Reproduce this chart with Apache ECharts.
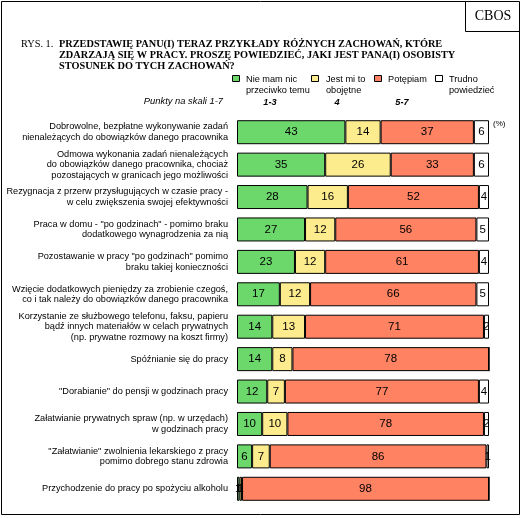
<!DOCTYPE html>
<html><head><meta charset="utf-8">
<script src="https://cdn.jsdelivr.net/npm/echarts@6/dist/echarts.min.js"></script>
<style>html,body{margin:0;padding:0;background:#fff}#c{width:523px;height:518px}</style>
</head><body><div id="c"></div>
<script>
const categories = [
  "Dobrowolne, bezpłatne wykonywanie zadań\nnienależących do obowiązków danego pracownika",
  "Odmowa wykonania zadań nienależących\ndo obowiązków danego pracownika, chociaż\npozostających w granicach jego możliwości",
  "Rezygnacja z przerw przysługujących w czasie pracy -\nw celu zwiększenia swojej efektywności",
  "Praca w domu - \"po godzinach\" - pomimo braku\ndodatkowego wynagrodzenia za nią",
  "Pozostawanie w pracy \"po godzinach\" pomimo\nbraku takiej konieczności",
  "Wzięcie dodatkowych pieniędzy za zrobienie czegoś,\nco i tak należy do obowiązków danego pracownika",
  "Korzystanie ze służbowego telefonu, faksu, papieru\nbądź innych materiałów w celach prywatnych\n(np. prywatne rozmowy na koszt firmy)",
  "Spóźnianie się do pracy",
  "\"Dorabianie\" do pensji w godzinach pracy",
  "Załatwianie prywatnych spraw (np. w urzędach)\nw godzinach pracy",
  "\"Załatwianie\" zwolnienia lekarskiego z pracy\npomimo dobrego stanu zdrowia",
  "Przychodzenie do pracy po spożyciu alkoholu"
];
const seriesNames = ["Nie mam nic\nprzeciwko temu", "Jest mi to\nobojętne", "Potępiam", "Trudno\npowiedzieć"];
const scaleLabels = ["1-3", "4", "5-7"];
const nieMam   = [43, 35, 28, 27, 23, 17, 14, 14, 12, 10, 6, 1];
const obojetne = [14, 26, 16, 12, 12, 12, 13, 8, 7, 10, 7, 1];
const potepiam = [37, 33, 52, 56, 61, 66, 71, 78, 77, 78, 86, 98];
const trudno   = [6, 6, 4, 5, 4, 5, 2, 0, 4, 2, 1, 0];
const colors = ["#6cd86c", "#fdec8e", "#ff8262", "#ffffff"];
const values = [nieMam, obojetne, potepiam, trudno];

const chart = echarts.init(document.getElementById('c'));
const series = values.map((v, i) => ({
  name: seriesNames[i], type: 'bar', stack: 'all', barWidth: 24,
  itemStyle: { color: colors[i], borderColor: '#000', borderWidth: 1 },
  label: { show: true, position: 'inside', color: '#000', fontSize: 11.5, fontFamily: 'Liberation Sans',
           formatter: p => p.value > 0 ? String(p.value) : '' },
  emphasis: { disabled: true },
  data: v
}));
const serifBold = 'bold 10.3px "Liberation Serif"';
const legendIconX = [232, 311, 374, 435];
const legendTextX = [246, 326, 388, 449];
const legendGraphics = [];
seriesNames.forEach((n, i) => {
  legendGraphics.push({ type: 'rect', shape: { x: legendIconX[i] + 0.5, y: 75.5, width: 7, height: 6 },
    style: { fill: colors[i], stroke: '#000', lineWidth: 1 } });
  legendGraphics.push({ type: 'text', x: legendTextX[i], y: 74, style: { text: n, font: '9.2px "Liberation Sans"', lineHeight: 11, fill: '#000', verticalAlign: 'top' } });
});
const scaleX = [270, 337, 402];
const scaleGraphics = scaleLabels.map((t, i) => ({ type: 'text', x: scaleX[i], y: 102,
  style: { text: t, font: 'italic bold 9.2px "Liberation Sans"', fill: '#000', align: 'center', verticalAlign: 'middle' } }));

chart.setOption({
  animation: false,
  grid: { left: 237, right: 34, top: 116, bottom: 13, containLabel: false },
  xAxis: { type: 'value', min: 0, max: 100, show: false },
  yAxis: { type: 'category', data: categories, inverse: true,
    axisLine: { show: false }, axisTick: { show: false },
    axisLabel: { margin: 9, fontSize: 9.2, lineHeight: 10.6, color: '#000', fontFamily: 'Liberation Sans', align: 'right' } },
  graphic: [
    { type: 'rect', shape: { x: 1.5, y: 1.5, width: 518, height: 513 }, style: { fill: 'none', stroke: '#000', lineWidth: 1 } },
    { type: 'polyline', shape: { points: [[465.5, 1.5], [465.5, 31.5], [519.5, 31.5]] }, style: { fill: 'none', stroke: '#000', lineWidth: 1 } },
    { type: 'text', x: 493, y: 16, style: { text: 'CBOS', font: '14px "Liberation Serif"', fill: '#000', align: 'center', verticalAlign: 'middle' } },
    { type: 'text', x: 21, y: 44, style: { text: 'RYS. 1.', font: '10.3px "Liberation Serif"', fill: '#000', verticalAlign: 'middle' } },
    { type: 'text', x: 59, y: 44, style: { text: 'PRZEDSTAWIĘ PANU(I) TERAZ PRZYKŁADY RÓŻNYCH ZACHOWAŃ, KTÓRE', font: serifBold, fill: '#000', verticalAlign: 'middle' } },
    { type: 'text', x: 59, y: 55, style: { text: 'ZDARZAJĄ SIĘ W PRACY. PROSZĘ POWIEDZIEĆ, JAKI JEST PANA(I) OSOBISTY', font: serifBold, fill: '#000', verticalAlign: 'middle' } },
    { type: 'text', x: 59, y: 66, style: { text: 'STOSUNEK DO TYCH ZACHOWAŃ?', font: serifBold, fill: '#000', verticalAlign: 'middle' } },
    { type: 'text', x: 223, y: 101, style: { text: 'Punkty na skali 1-7', font: 'italic 9.4px "Liberation Sans"', fill: '#000', align: 'right', verticalAlign: 'middle' } },
    ...scaleGraphics,
    ...legendGraphics,
    { type: 'text', x: 493, y: 124, style: { text: '(%)', font: '8px "Liberation Sans"', fill: '#000', verticalAlign: 'middle' } }
  ],
  series
});
</script></body></html>
